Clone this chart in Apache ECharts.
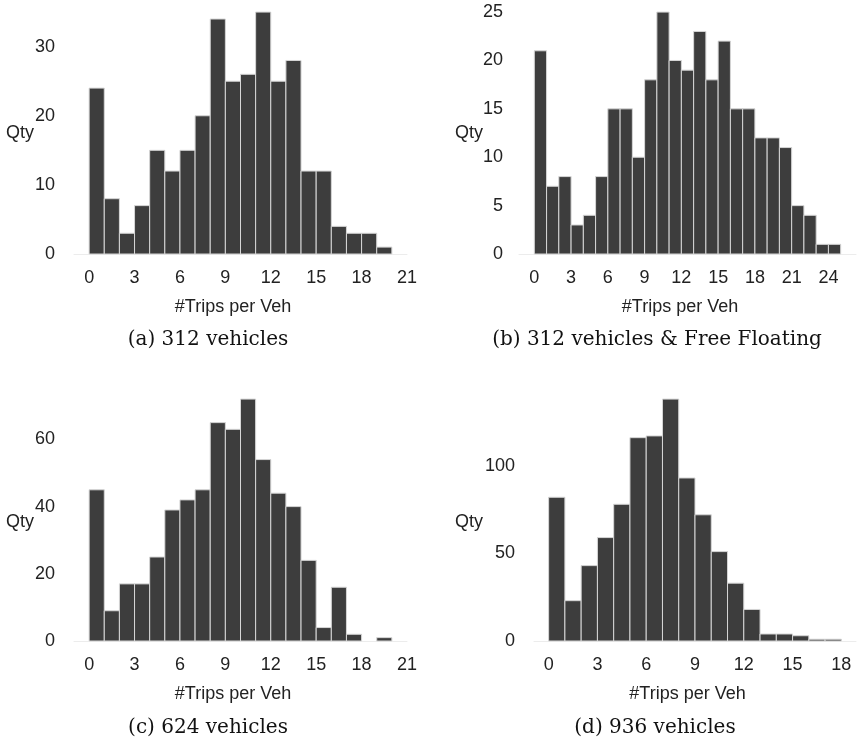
<!DOCTYPE html>
<html>
<head>
<meta charset="utf-8">
<script src="https://cdn.jsdelivr.net/npm/echarts@6/dist/echarts.min.js"></script>
<style>
  html, body { margin: 0; padding: 0; background: #fff; }
  #chart { width: 857px; height: 746px; }
</style>
</head>
<body>
<div id="chart"></div>
<script>
// counts per unit-wide bin, bins start at 0
const countsA = [24, 8, 3, 7, 15, 12, 15, 20, 34, 25, 26, 35, 25, 28, 12, 12, 4, 3, 3, 1];
const countsB = [21, 7, 8, 3, 4, 8, 15, 15, 10, 18, 25, 20, 19, 23, 18, 22, 15, 15, 12, 12, 11, 5, 4, 1, 1];
const countsC = [45, 9, 17, 17, 25, 39, 42, 45, 65, 63, 72, 54, 44, 40, 24, 4, 16, 2, 0, 1];
const countsD = [82, 23, 43, 59, 78, 116, 117, 138, 93, 72, 51, 33, 18, 4, 4, 3, 1, 1];

const xTicksA = [0, 3, 6, 9, 12, 15, 18, 21];
const xTicksB = [0, 3, 6, 9, 12, 15, 18, 21, 24];
const xTicksC = [0, 3, 6, 9, 12, 15, 18, 21];
const xTicksD = [0, 3, 6, 9, 12, 15, 18];

const yTicksA = [0, 10, 20, 30];
const yTicksB = [0, 5, 10, 15, 20, 25];
const yTicksC = [0, 20, 40, 60];
const yTicksD = [0, 50, 100];

const captions = ['(a) 312 vehicles', '(b) 312 vehicles & Free Floating', '(c) 624 vehicles', '(d) 936 vehicles'];

const xName = '#Trips per Veh';
const yName = 'Qty';

const BAR = '#3d3d3d';
const TXT = '#222';
const SANS = 'Liberation Sans, Arial, sans-serif';

const panels = [
  { counts: countsA, xTicks: xTicksA, yTicks: yTicksA, grid: { left: 74, top: 0, width: 333, height: 254 }, yMargin: 19, qty: [34, 133] },
  { counts: countsB, xTicks: xTicksB, yTicks: yTicksB, grid: { left: 519, top: 0, width: 337, height: 254 }, yMargin: 16, qty: [483, 133] },
  { counts: countsC, xTicks: xTicksC, yTicks: yTicksC, grid: { left: 74, top: 387, width: 333, height: 254 }, yMargin: 19, qty: [34, 522] },
  { counts: countsD, xTicks: xTicksD, yTicks: yTicksD, grid: { left: 534, top: 387, width: 322, height: 254 }, yMargin: 19, qty: [483, 522] }
];

function renderBin(params, api) {
  const h = api.value(2);
  if (!h) return null;
  const p0 = api.coord([api.value(0), 0]);
  const p1 = api.coord([api.value(1), h]);
  return {
    type: 'rect',
    shape: { x: p0[0], y: p1[1], width: p1[0] - p0[0], height: p0[1] - p1[1] },
    style: { fill: BAR, stroke: '#d6d6d6', lineWidth: 1 }
  };
}

const grid = [], xAxis = [], yAxis = [], series = [], graphic = [];

panels.forEach((p, i) => {
  const n = p.counts.length;
  grid.push(p.grid);
  xAxis.push({
    type: 'value',
    gridIndex: i,
    min: -0.05 * n,
    max: 1.05 * n,
    splitLine: { show: false },
    axisTick: { show: false },
    axisLine: { show: true, lineStyle: { color: '#ececec', width: 1 } },
    axisLabel: { customValues: p.xTicks, color: TXT, fontSize: 18, fontFamily: SANS, margin: 15 },
    name: xName,
    nameLocation: 'middle',
    nameGap: 44,
    nameTextStyle: { color: TXT, fontSize: 18, fontFamily: SANS, padding: [0, 15, 0, 0] }
  });
  yAxis.push({
    type: 'value',
    gridIndex: i,
    min: 0,
    max: Math.max(...p.counts) * 1.05,
    splitLine: { show: false },
    axisTick: { show: false },
    axisLine: { show: false },
    axisLabel: { customValues: p.yTicks, color: TXT, fontSize: 18, fontFamily: SANS, margin: p.yMargin }
  });
  series.push({
    type: 'custom',
    xAxisIndex: i,
    yAxisIndex: i,
    renderItem: renderBin,
    encode: { x: [0, 1], y: 2 },
    data: p.counts.map((c, k) => [k, k + 1, c]),
    silent: true
  });
  // horizontal y-axis title, sitting just under the middle tick as in the source
  graphic.push({
    type: 'text',
    x: p.qty[0],
    y: p.qty[1],
    style: { text: yName, fill: TXT, font: '18px ' + SANS, textAlign: 'right', textVerticalAlign: 'middle' }
  });
});

const capPos = [[208, 340], [657, 340], [208, 728], [655, 728]];
captions.forEach((t, i) => {
  graphic.push({
    type: 'text',
    x: capPos[i][0],
    y: capPos[i][1],
    style: {
      text: t,
      fill: '#111',
      font: '20px "DejaVu Serif", serif',
      textAlign: 'center',
      textVerticalAlign: 'middle'
    }
  });
});

const chart = echarts.init(document.getElementById('chart'));
chart.setOption({
  animation: false,
  backgroundColor: '#fff',
  grid,
  xAxis,
  yAxis,
  series,
  graphic
});
</script>
</body>
</html>
